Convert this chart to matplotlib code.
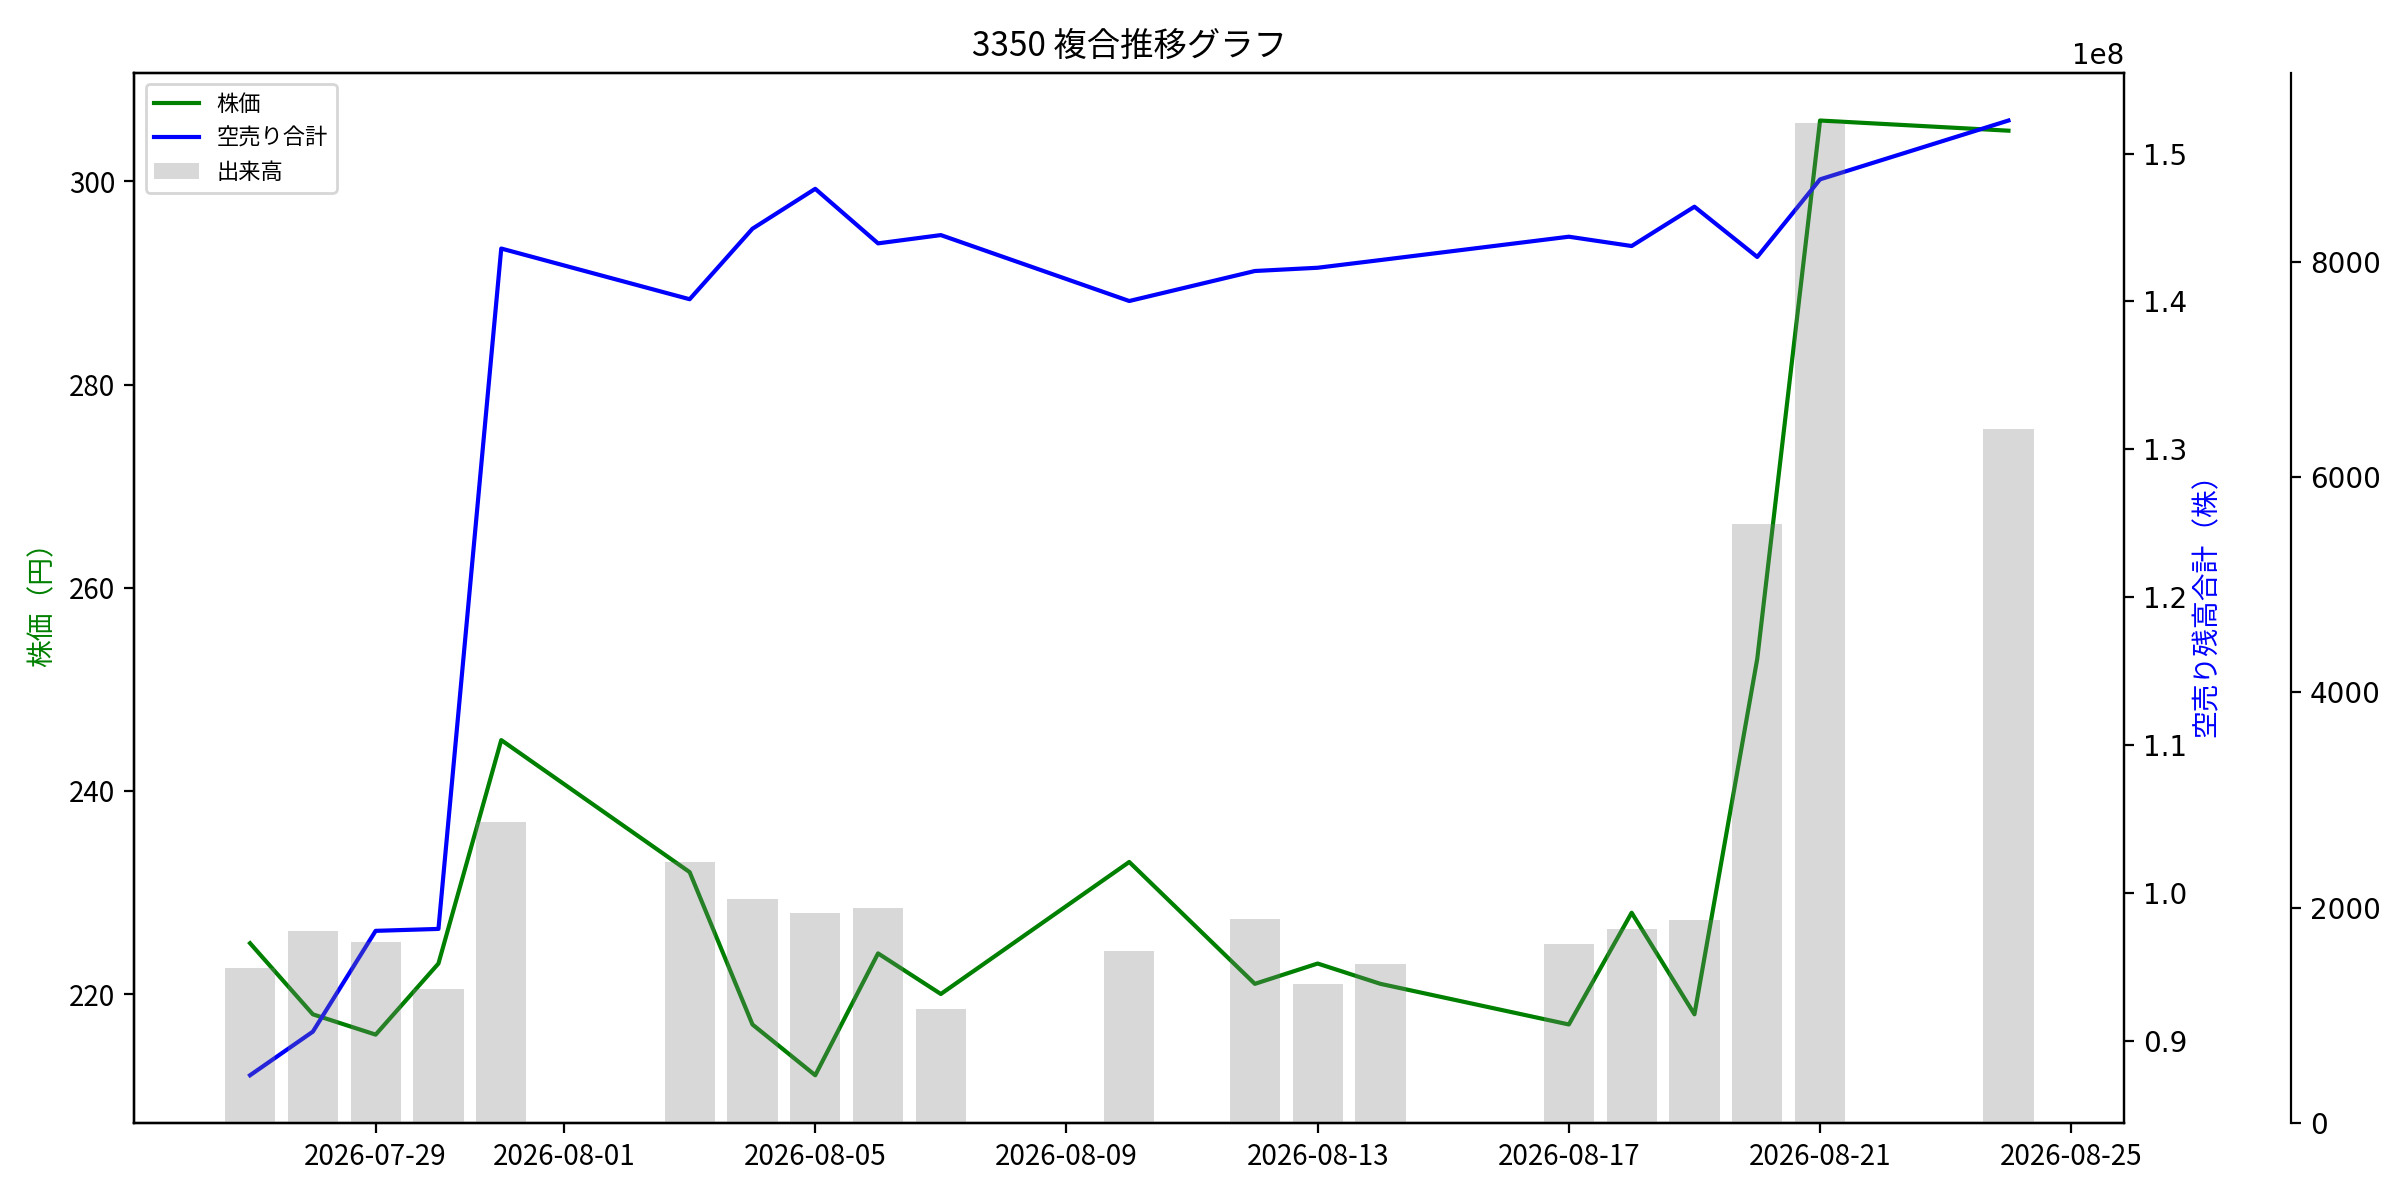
import matplotlib
matplotlib.use('Agg')
import matplotlib.pyplot as plt
import pandas as pd

dates = ['2026-07-27', '2026-07-28', '2026-07-29', '2026-07-30', '2026-07-31',
         '2026-08-03', '2026-08-04', '2026-08-05', '2026-08-06', '2026-08-07',
         '2026-08-10', '2026-08-12', '2026-08-13', '2026-08-14',
         '2026-08-17', '2026-08-18', '2026-08-19', '2026-08-20', '2026-08-21',
         '2026-08-24']
price = [225, 218, 216, 223, 245, 232, 217, 212, 224, 220,
         233, 221, 223, 221, 217, 228, 218, 253, 306, 305]
short_total = [8.765e7, 9.06e7, 9.742e7, 9.755e7, 1.4358e8,
               1.4015e8, 1.4492e8, 1.4762e8, 1.4393e8, 1.4449e8,
               1.4003e8, 1.4206e8, 1.4228e8, 1.4280e8,
               1.4438e8, 1.4375e8, 1.4641e8, 1.4301e8, 1.4826e8,
               1.5224e8]
volume = [1439, 1783, 1681, 1244, 2795, 2423, 2080, 1950, 1996, 1058,
          1597, 1894, 1291, 1476, 1662, 1801, 1885, 5562, 9288, 6444]

title = '3350 複合推移グラフ'
label_price = '株価'
label_short = '空売り合計'
label_volume = '出来高'
ylabel_price = '株価（円）'
ylabel_short = '空売り残高合計（株）'

JP = 'Noto Sans CJK JP'
plt.rcParams['font.family'] = ['DejaVu Sans']

d = pd.to_datetime(dates)

fig = plt.figure(figsize=(12, 6), dpi=200)
ax1 = fig.add_axes([0.05604, 0.06417, 0.82896, 0.87517])
ax2 = ax1.twinx()
ax3 = ax1.twinx()
ax3.spines['right'].set_position(('outward', 60))

l1, = ax1.plot(d, price, color='green', label=label_price)
l2, = ax2.plot(d, short_total, color='blue', label=label_short)
b3 = ax3.bar(d, volume, color='gray', alpha=0.3, width=0.8, label=label_volume)

ax1.set_ylabel(ylabel_price, color='green', family=JP)
ax2.set_ylabel(ylabel_short, color='blue', family=JP, labelpad=1.5)
ax1.set_title(title, family=JP)
ax1.tick_params(axis='both', labelfontfamily=JP)

ax1.legend([l1, l2, b3], [label_price, label_short, label_volume],
           loc='upper left', prop={'family': JP, 'size': 8})

fig.savefig('out.png', dpi=200)
